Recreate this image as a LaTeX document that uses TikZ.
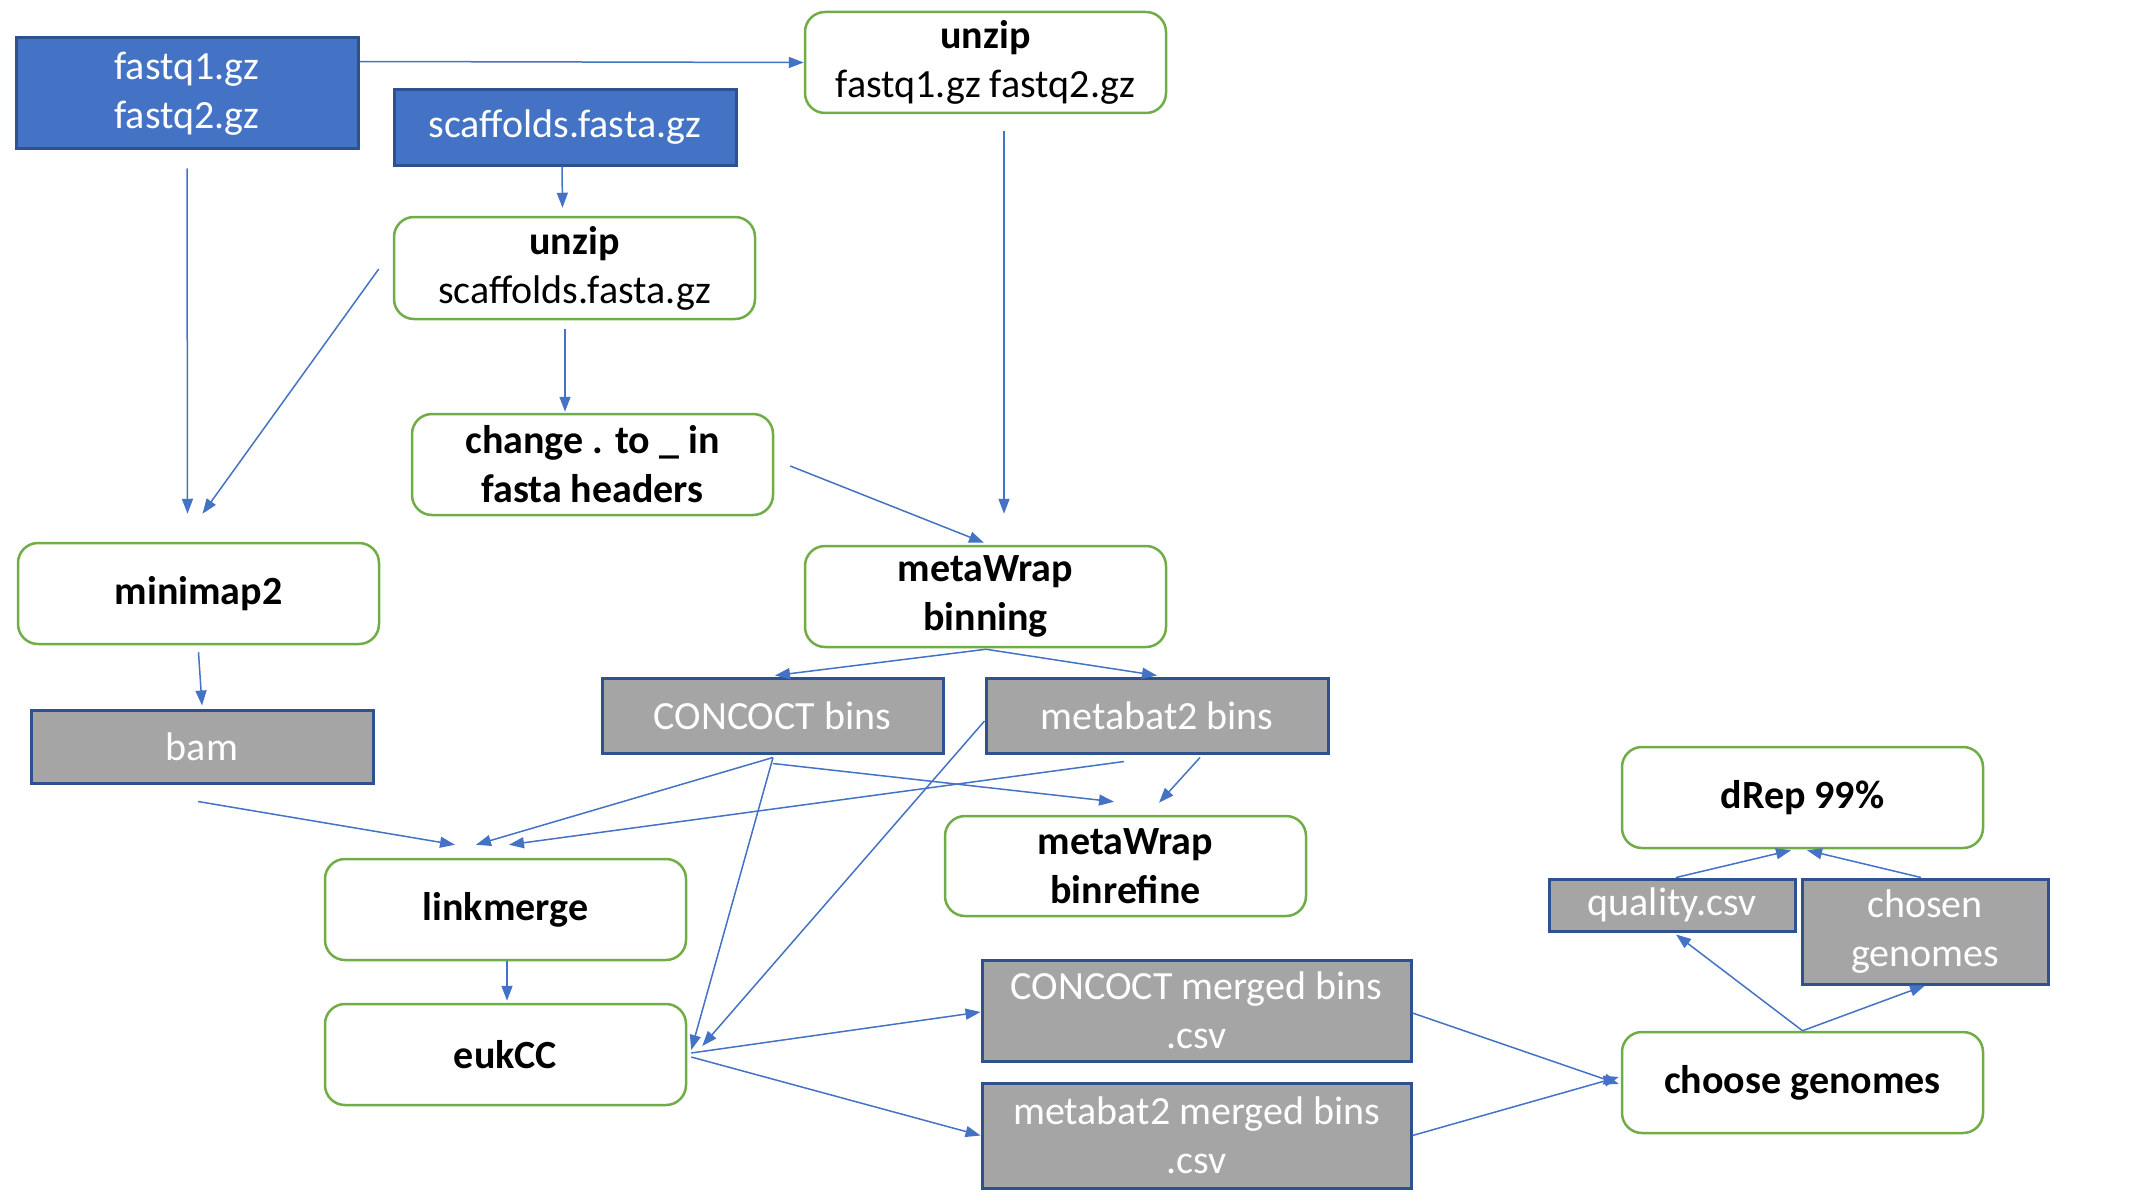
\documentclass[tikz,border=0pt]{standalone}
\usepackage{fontspec}
\setmainfont{Carlito}
\usetikzlibrary{arrows.meta,calc}
\definecolor{bluefill}{HTML}{4472C4}
\definecolor{blueline}{HTML}{2F528F}
\definecolor{greyfill}{HTML}{A5A5A5}
\definecolor{greenline}{HTML}{70AD47}
\definecolor{arrowblue}{HTML}{4472C4}
\tikzset{
  every node/.style={font=\fontsize{40}{49}\selectfont, align=center, inner sep=0pt},
  bluebox/.style={draw=blueline, line width=3pt, fill=bluefill, text=white},
  greybox/.style={draw=blueline, line width=3pt, fill=greyfill, text=white},
  stepbox/.style={draw=greenline, line width=2.5pt, fill=white, rounded corners=20pt, text=black, font=\fontsize{40}{49}\selectfont\bfseries},
  arr/.style={draw=arrowblue, line width=1.5pt, -{Triangle[length=15pt,width=11pt]}},
}
\begin{document}
\begin{tikzpicture}[x=1pt,y=-1pt]
\useasboundingbox (0,0) rectangle (2144,1196);
% nodes
\node[bluebox, minimum width=342pt, minimum height=111pt] (fastq) at (187,93.5) {fastq1.gz\\fastq2.gz};
\node[bluebox, minimum width=342pt, minimum height=75pt] (scaff) at (565,127.5) {scaffolds.fasta.gz};
\node[stepbox, minimum width=361pt, minimum height=101pt] (unzipF) at (985.5,62.5) {unzip\\\mdseries fastq1.gz fastq2.gz};
\node[stepbox, minimum width=361pt, minimum height=102pt] (unzipS) at (574.5,268) {unzip\\\mdseries scaffolds.fasta.gz};
\node[stepbox, minimum width=361pt, minimum height=101pt] (change) at (592.5,464.5) {change . to \_ in\\fasta headers};
\node[stepbox, minimum width=361pt, minimum height=101pt] (minimap) at (198.5,593.5) {minimap2};
\node[stepbox, minimum width=361pt, minimum height=101pt] (binning) at (985.5,596.5) {metaWrap\\binning};
\node[greybox, minimum width=342pt, minimum height=73pt] (bam) at (202,746.5) {bam};
\node[greybox, minimum width=341pt, minimum height=75pt] (concoct) at (772.5,715.5) {CONCOCT bins};
\node[greybox, minimum width=342pt, minimum height=75pt] (metabat) at (1157,715.5) {metabat2 bins};
\node[stepbox, minimum width=361pt, minimum height=100pt] (binrefine) at (1125.5,866) {metaWrap\\binrefine};
\node[stepbox, minimum width=361pt, minimum height=101pt] (linkmerge) at (505.5,909.5) {linkmerge};
\node[stepbox, minimum width=361pt, minimum height=101pt] (eukCC) at (505.5,1054.5) {eukCC};
\node[greybox, minimum width=429pt, minimum height=101pt] (CONCmerged) at (1196.5,1010.5) {CONCOCT merged bins\\.csv};
\node[greybox, minimum width=429pt, minimum height=105pt] (metamerged) at (1196.5,1135.5) {metabat2 merged bins\\.csv};
\node[stepbox, minimum width=361pt, minimum height=101pt] (dRep) at (1802.5,797.5) {dRep 99\%};
\node[greybox, minimum width=246pt, minimum height=52pt] (quality) at (1672,905) {quality.csv};
\node[greybox, minimum width=246pt, minimum height=105pt] (chosen) at (1925,931.5) {chosen\\genomes};
\node[stepbox, minimum width=361pt, minimum height=101pt] (choose) at (1802.5,1082.5) {choose genomes};
% connectors
\draw[arr] ($(fastq.north east)+(0,25)$) -- (unzipF.west);
\draw[arr] ($(fastq.south)+(0,18)$) -- ($(minimap.north)+(-11,-28)$);
\draw[arr] ($(unzipS.west)+(-14,1)$) -- ($(minimap.north)+(4,-28)$);
\draw[arr] ($(scaff.south)+(-3,0)$) -- ($(unzipS.north)+(-12,-8)$);
\draw[arr] ($(unzipS.south)+(-9.5,9)$) -- ($(change.north)+(-27.5,-1)$);
\draw[arr] ($(change.east)+(16,1.5)$) -- ($(binning.north)+(-1.5,-2)$);
\draw[arr] ($(unzipF.south)+(18.5,17)$) -- ($(binning.north)+(18.5,-31)$);
\draw[arr] ($(binning.south)+(0.5,1)$) -- ($(concoct.north)+(2.5,-1)$);
\draw[arr] ($(binning.south)+(0.5,1)$) -- ($(metabat.north)+(0,-1)$);
\draw[arr] ($(minimap.south)+(0,7)$) -- ($(bam.north)+(0,-3)$);
\draw[arr] ($(bam.south)+(-4,17)$) -- ($(linkmerge.north)+(-50.5,-13)$);
\draw[arr] ($(concoct.south)+(0.5,3)$) -- ($(linkmerge.north)+(-29.5,-13)$);
\draw[arr] ($(metabat.south)+(-33,7)$) -- ($(linkmerge.north)+(3.5,-13)$);
\draw[arr] ($(concoct.south)+(0.5,9)$) -- ($(binrefine.north)+(-11.5,-13)$);
\draw[arr] ($(metabat.south)+(43,3)$) -- ($(binrefine.north)+(33.5,-12)$);
\draw[arr] ($(concoct.south)+(0.5,3)$) -- ($(eukCC.east)+(4,-4.5)$);
\draw[arr] ($(metabat.west)+(0,5.5)$) -- ($(eukCC.east)+(15,-8.5)$);
\draw[arr] ($(linkmerge.south)+(1.5,0)$) -- ($(eukCC.north)+(1.5,-2)$);
\draw[arr] ($(eukCC.east)+(4,-1.5)$) -- ($(CONCmerged.west)+(0,1.5)$);
\draw[arr] ($(eukCC.east)+(4,2.5)$) -- (metamerged.west);
\draw[arr] ($(CONCmerged.east)+(0,2.5)$) -- ($(choose.west)+(-2,1.5)$);
\draw[arr] (metamerged.east) -- ($(choose.west)+(-2,-5.5)$);
\draw[arr] (choose.north) -- ($(quality.south)+(4,2)$);
\draw[arr] (choose.north) -- (chosen.south);
\draw[arr] ($(quality.north)+(4,0)$) -- ($(dRep.south)+(-11.5,1)$);
\draw[arr] ($(chosen.north)+(-4,0)$) -- ($(dRep.south)+(4.5,1)$);
\end{tikzpicture}
\end{document}
